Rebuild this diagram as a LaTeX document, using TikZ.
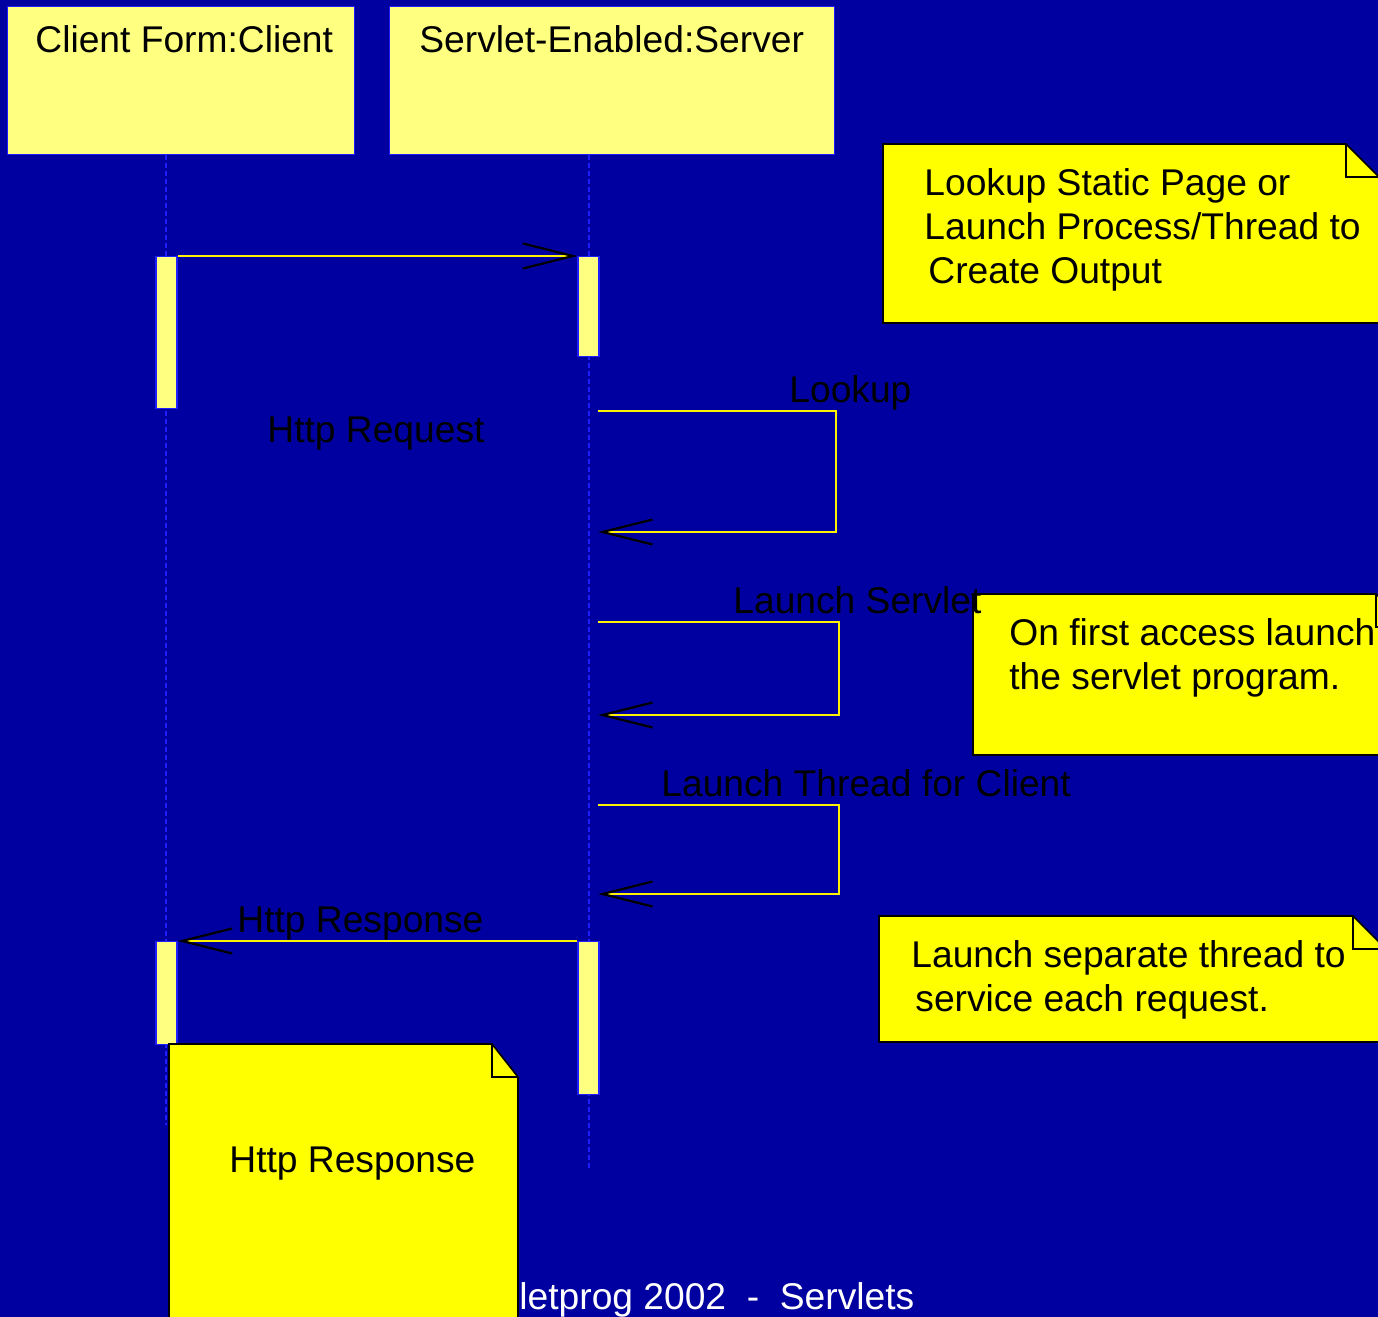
\documentclass[tikz,border=0pt]{standalone}
\usepackage{fontspec}
\setmainfont{Liberation Sans}
\usetikzlibrary{arrows.meta}

\definecolor{bgblue}{RGB}{0,0,160}
\definecolor{lightyel}{RGB}{255,255,128}
\definecolor{noteyel}{RGB}{255,255,0}
\definecolor{lineblue}{RGB}{30,30,255}

\tikzset{
  txt/.style={font=\fontsize{18.6pt}{22pt}\selectfont, inner sep=0pt, text=black, align=left},
  objbox/.style={draw=lineblue, fill=lightyel, line width=0.6pt, anchor=north west, inner sep=0pt, minimum height=74pt},
  actbar/.style={draw=lineblue, fill=lightyel, line width=0.6pt, anchor=north, inner sep=0pt, minimum width=10.5pt},
  lifeline/.style={draw=lineblue, line width=0.8pt, dash pattern=on 2.5pt off 1.5pt},
  msg/.style={draw=yellow, line width=1pt, -{Straight Barb[length=25pt,width=12.5pt,color=black,line width=1.1pt]}},
  notebox/.style={draw=black, fill=noteyel, line width=0.8pt, line join=miter},
}

\begin{document}
\begin{tikzpicture}[x=0.5pt,y=0.5pt,yscale=-1]
\useasboundingbox (0,0) rectangle (1378,1317);
\clip (0,0) rectangle (1378,1317);
%Shape: Background
\fill [bgblue] (0,0) rectangle (1378,1317);

%Shape: Object boxes
\node [objbox, minimum width=173.5pt] (client) at (7,6) {};
\node [objbox, minimum width=222.5pt] (server) at (389,6) {};
% Text Node
\draw (35,53) node [txt, anchor=base west] (clientname) {Client Form:Client};
% Text Node
\draw (419,53) node [txt, anchor=base west] (servername) {Servlet-Enabled:Server};

%Straight Lines: lifelines
\coordinate (clientend) at (166,1125);
\coordinate (serverend) at (589,1169);
\draw [lifeline] (client.south -| clientend) -- (clientend);
\draw [lifeline] (server.south -| serverend) -- (serverend);

%Shape: Activation bars
\node [actbar, minimum height=76pt] (cact1) at (166.5,256) {};
\node [actbar, minimum height=50pt] (sact1) at (588.5,256) {};
\node [actbar, minimum height=51.5pt] (cact2) at (166.5,941) {};
\node [actbar, minimum height=76.5pt] (sact2) at (588.5,941) {};

%Shape: Note servlet
\draw [notebox] (973,594) -- (1376,594) -- (1409,627) -- (1409,755) -- (973,755) -- cycle;
\draw [notebox, fill=none] (1376,594) -- (1376,627) -- (1409,627);
% Text Node
\draw (1009,618) node [txt, anchor=north west] (noteservlet) {On first access launch\\the servlet program.};

%Straight Lines: Http Request
\draw [msg] (cact1.north east) -- (sact1.north west);
% Text Node
\draw (267,442) node [txt, anchor=base west] (lblrequest) {Http Request};

%Straight Lines: Lookup
\coordinate (lookupout) at (598,411);
\coordinate (lookupin) at (598,532);
\draw [msg] (lookupout) -- ++(238,0) |- (lookupin);
% Text Node
\draw (789,402) node [txt, anchor=base west] (lbllookup) {Lookup};

%Straight Lines: Launch Servlet
\coordinate (servletout) at (598,622);
\coordinate (servletin) at (598,715);
\draw [msg] (servletout) -- ++(241,0) |- (servletin);
% Text Node
\draw (733,613) node [txt, anchor=base west] (lblservlet) {Launch Servlet};

%Straight Lines: Launch Thread for Client
\coordinate (threadout) at (598,805);
\coordinate (threadin) at (598,894);
\draw [msg] (threadout) -- ++(241,0) |- (threadin);
% Text Node
\draw (661,796) node [txt, anchor=base west] (lblthread) {Launch Thread for Client};

%Straight Lines: Http Response
\draw [msg] (sact2.north west) -- (cact2.north east);
% Text Node
\draw (237,932) node [txt, anchor=base west] (lblresponse) {Http Response};

%Shape: Note lookup
\draw [notebox] (883,144) -- (1346,144) -- (1379,177) -- (1379,323) -- (883,323) -- cycle;
\draw [notebox, fill=none] (1346,144) -- (1346,177) -- (1379,177);
% Text Node
\draw (924,168) node [txt, anchor=north west] (notelookup) {Lookup Static Page or\\Launch Process/Thread to\\\hspace{2pt}Create Output};

%Shape: Note thread
\draw [notebox] (879,916) -- (1353,916) -- (1386,949) -- (1386,1042) -- (879,1042) -- cycle;
\draw [notebox, fill=none] (1353,916) -- (1353,949) -- (1386,949);
% Text Node
\draw (911,940) node [txt, anchor=north west] (notethread) {Launch separate thread to\\\hspace{2pt}service each request.};

% Text Node: footer
\draw (519,1309) node [txt, anchor=base west, text=white] (footer) {letprog 2002\ \ -\ \ Servlets};

%Shape: Note response
\draw [notebox] (169,1044) -- (492,1044) -- (518,1077) -- (518,1330) -- (169,1330) -- cycle;
\draw [notebox, fill=none] (492,1044) -- (492,1077) -- (518,1077);
% Text Node
\draw (229,1172) node [txt, anchor=base west] (noteresponse) {Http Response};

\end{tikzpicture}
\end{document}
